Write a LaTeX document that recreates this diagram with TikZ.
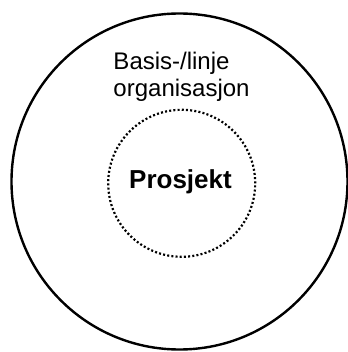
\documentclass[tikz,border=0pt]{standalone}
\usepackage{fontspec}
\setmainfont{Liberation Sans}
\begin{document}
\begin{tikzpicture}[x=1bp,y=1bp,
  outerring/.style={draw=black, line width=2.4bp},
  innerring/.style={draw=black, line width=2.2bp, dash pattern=on 2bp off 2.2bp},
  labeltext/.style={inner sep=0pt, anchor=base west, font=\fontsize{24bp}{27bp}\selectfont},
  titletext/.style={inner sep=0pt, anchor=base, font=\fontsize{26bp}{30bp}\selectfont\bfseries}]
\useasboundingbox (0,0) rectangle (348,352);
% line organisation (outer) and project (inner)
\draw[outerring] (179.5,170.5) circle[radius=168];
\draw[innerring] (181.7,168.7) circle[radius=73.5];
\node[labeltext] (basis) at (113.3,283) {Basis-/linje};
\node[labeltext] (organisasjon) at (113.3,256) {organisasjon};
\node[titletext] (prosjekt) at (180.5,164) {Prosjekt};
\end{tikzpicture}
\end{document}
